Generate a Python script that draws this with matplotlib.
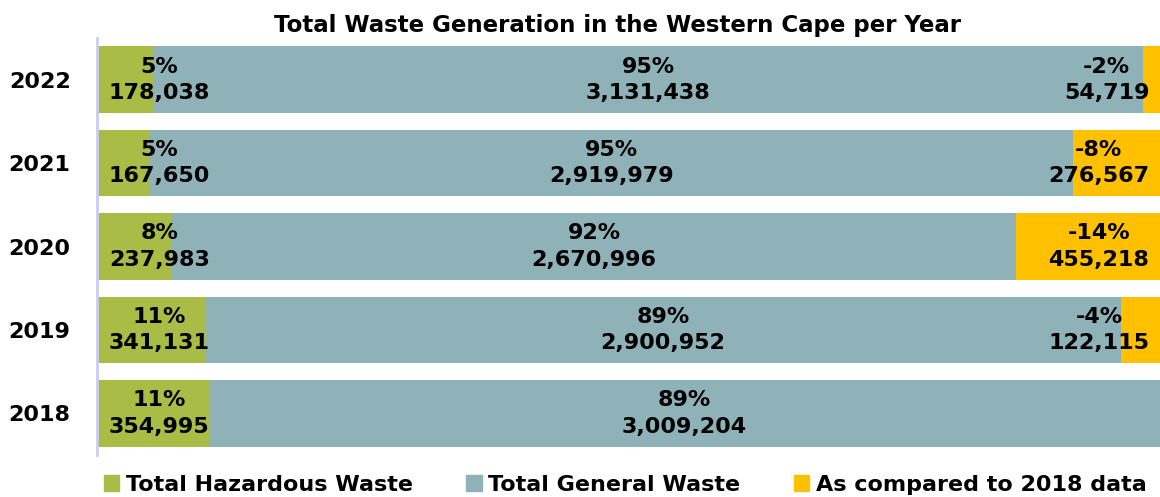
import matplotlib
matplotlib.use('Agg')
import matplotlib.pyplot as plt
from matplotlib.patches import Patch

# Data
years = ['2022', '2021', '2020', '2019', '2018']
hazardous = [178038, 167650, 237983, 341131, 354995]
general = [3131438, 2919979, 2670996, 2900952, 3009204]
compared = [54719, 276567, 455218, 122115, 0]
haz_pct = ['5%', '5%', '8%', '11%', '11%']
gen_pct = ['95%', '95%', '92%', '89%', '89%']
cmp_pct = ['-2%', '-8%', '-14%', '-4%', '']

green = '#a8bc46'
grey_blue = '#8fb2b8'
yellow = '#ffc000'

plt.rcParams['font.family'] = 'DejaVu Sans'
plt.rcParams['font.weight'] = 'bold'

fig = plt.figure(figsize=(11.6, 4.97), dpi=100)
ax = fig.add_axes([0.0836, 0.0845, 0.9164, 0.839])

ypos = list(range(len(years)))
total = hazardous[-1] + general[-1]

ax.barh(ypos, hazardous, height=0.8, color=green, edgecolor='none')
ax.barh(ypos, general, left=hazardous, height=0.8, color=grey_blue, edgecolor='none')
left2 = [h + g for h, g in zip(hazardous, general)]
ax.barh(ypos, compared, left=left2, height=0.8, color=yellow, edgecolor='none')

fs = 16
ls = 1.4
for i in ypos:
    # hazardous label: right aligned at segment end, pushed right if the segment is short
    x = max(hazardous[i], total * 0.106)
    ax.text(x, i, f'{haz_pct[i]}\n{hazardous[i]:,}', ha='right', va='center',
            multialignment='center', fontsize=fs, fontweight='bold', linespacing=ls)
    # general label centered in its segment
    ax.text(hazardous[i] + general[i] / 2, i, f'{gen_pct[i]}\n{general[i]:,}', ha='center',
            va='center', multialignment='center', fontsize=fs, fontweight='bold', linespacing=ls)
    if compared[i]:
        ax.text(total * 0.99, i, f'{cmp_pct[i]}\n{compared[i]:,}', ha='right', va='center',
                multialignment='center', fontsize=fs, fontweight='bold', linespacing=ls)

ax.set_xlim(0, total)
ax.set_ylim(len(years) - 0.5, -0.5)
ax.set_yticks(ypos)
ax.set_yticklabels(years, fontsize=16, fontweight='bold')
ax.tick_params(axis='y', length=0, pad=19)
ax.set_xticks([])
for s in ['top', 'right', 'bottom']:
    ax.spines[s].set_visible(False)
ax.spines['left'].set_color('#c8cdf5')
ax.spines['left'].set_linewidth(2)

fig.text(0.532, 0.948, 'Total Waste Generation in the Western Cape per Year',
         ha='center', va='center', fontsize=16.5, fontweight='bold')

handles = [Patch(color=green, label='Total Hazardous Waste'),
           Patch(color=grey_blue, label='Total General Waste'),
           Patch(color=yellow, label='As compared to 2018 data')]
fig.legend(handles=handles, loc='center', bbox_to_anchor=(0.539, 0.025), ncol=3, frameon=False,
           prop={'size': 16, 'weight': 'bold'}, handlelength=0.7, handleheight=0.7,
           handletextpad=0.3, columnspacing=2.4)

fig.savefig('out.png', dpi=100)
